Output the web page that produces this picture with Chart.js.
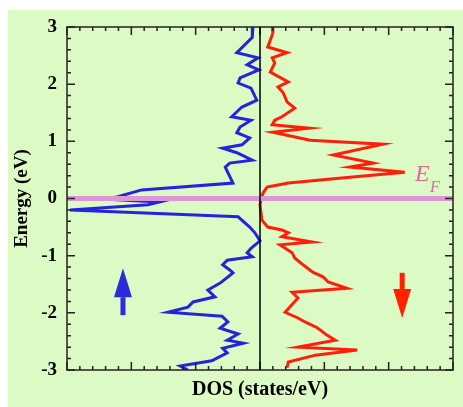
<!DOCTYPE html>
<html>
<head>
<meta charset="utf-8">
<script src="https://cdn.jsdelivr.net/npm/chart.js@4.4.1/dist/chart.umd.min.js"></script>
<style>
  html, body { margin: 0; padding: 0; background: #fff; }
  #wrap { position: absolute; left: 8px; top: 10px; width: 455px; height: 397px; background: #dcfac4; }
</style>
</head>
<body>
<div id="wrap"><canvas id="dosChart" width="455" height="397"></canvas></div>
<script>
// spin up (drawn to the left, negative DOS)
const upEnergy = [3.00, 2.82, 2.55, 2.46, 2.34, 2.25, 2.11, 2.02, 1.93, 1.72, 1.60, 1.43, 1.37, 1.25, 1.15, 1.06,
  0.94, 0.88, 0.80, 0.67, 0.62, 0.55, 0.27, 0.15, 0.03, -0.01, -0.06, -0.11, -0.20, -0.27, -0.32, -0.50,
  -0.60, -0.74, -0.87, -0.95, -1.02, -1.08, -1.16, -1.25, -1.30, -1.48, -1.60, -1.72, -1.81, -1.90, -1.99,
  -2.06, -2.16, -2.27, -2.37, -2.48, -2.53, -2.62, -2.70, -2.84, -2.93, -3.00];
const upDos = [-0.11, -0.12, -0.36, -0.03, -0.20, -0.02, -0.31, -0.34, -0.14, -0.05, -0.28, -0.44, -0.14, -0.31, -0.36, -0.16,
  -0.28, -0.58, -0.36, -0.12, -0.47, -0.54, -0.42, -1.84, -2.21, -2.40, -1.56, -1.74, -2.95, -1.40, -0.34, -0.16,
  -0.08, 0.0, -0.14, -0.20, -0.12, -0.51, -0.58, -0.47, -0.42, -0.62, -0.81, -0.70, -1.04, -1.12, -1.43,
  -0.59, -0.50, -0.62, -0.34, -0.51, -0.26, -0.58, -0.51, -0.75, -1.24, -1.12];

// spin down (drawn to the right)
const downEnergy = [3.00, 2.89, 2.65, 2.55, 2.46, 2.37, 2.21, 2.04, 1.95, 1.85, 1.69, 1.58, 1.43, 1.37, 1.29, 1.23,
  1.16, 1.02, 0.95, 0.76, 0.62, 0.55, 0.46, 0.38, 0.27, 0.20, 0.10, 0.00, -0.11, -0.38, -0.50, -0.55,
  -0.60, -0.67, -0.76, -0.81, -0.95, -1.04, -1.16, -1.29, -1.37, -1.46, -1.57, -1.64, -1.74, -1.99, -2.09,
  -2.16, -2.26, -2.39, -2.48, -2.60, -2.65, -2.74, -2.86, -2.96];
const downDos = [0.19, 0.20, 0.12, 0.42, 0.19, 0.23, 0.16, 0.44, 0.28, 0.36, 0.42, 0.54, 0.34, 0.23, 0.19, 0.76,
  0.20, 0.78, 1.91, 1.14, 1.76, 1.40, 2.25, 1.48, 0.44, 0.11, 0.05, 0.02, 0.0, 0.03, 0.12, 0.34,
  0.44, 0.34, 0.81, 0.31, 0.50, 0.54, 0.67, 0.82, 0.98, 1.06, 1.35, 0.50, 0.59, 0.39, 0.59,
  0.70, 0.89, 1.04, 1.17, 0.59, 1.51, 0.86, 0.44, 0.42];

const fermiLevel = 0;
const energyTicks = [-3, -2, -1, 0, 1, 2, 3];

const toPoints = (ys, xs) => ys.map((e, i) => ({ x: xs[i], y: e }));

const serif = '"Liberation Serif", "DejaVu Serif", serif';

// frame, inward ticks, zero line, E_F label and spin arrows
const decorations = {
  id: 'decorations',
  afterDatasetsDraw(chart) {
    const { ctx, chartArea: a, scales: { x, y } } = chart;
    ctx.save();
    ctx.strokeStyle = '#222';
    ctx.lineWidth = 1.5;
    ctx.strokeRect(a.left, a.top, a.right - a.left, a.bottom - a.top);

    ctx.beginPath();
    for (let i = 0; i <= 30; i++) {
      const v = -3 + i * 0.2;
      const len = i % 5 === 0 ? 8 : 4;
      const px = x.getPixelForValue(v);
      const py = y.getPixelForValue(v);
      ctx.moveTo(px, a.bottom); ctx.lineTo(px, a.bottom - len);
      ctx.moveTo(px, a.top); ctx.lineTo(px, a.top + len);
      ctx.moveTo(a.left, py); ctx.lineTo(a.left + len, py);
      ctx.moveTo(a.right, py); ctx.lineTo(a.right - len, py);
    }
    ctx.stroke();

    // zero DOS line
    ctx.strokeStyle = '#000';
    ctx.beginPath();
    ctx.moveTo(x.getPixelForValue(0), a.top);
    ctx.lineTo(x.getPixelForValue(0), a.bottom);
    ctx.stroke();

    // E_F label
    ctx.fillStyle = '#e0689a';
    ctx.textBaseline = 'alphabetic';
    ctx.font = 'italic 24px ' + serif;
    const ex = x.getPixelForValue(2.41);
    const ey = y.getPixelForValue(fermiLevel) - 18;
    ctx.fillText('E', ex, ey);
    ctx.font = 'italic 16px ' + serif;
    ctx.fillText('F', ex + 15, ey + 11);

    // spin arrows
    const arrow = (xv, tailE, headE, color) => {
      const cx = x.getPixelForValue(xv);
      const tail = y.getPixelForValue(tailE);
      const tip = y.getPixelForValue(headE);
      const dir = tip < tail ? -1 : 1;
      const headLen = 29;
      const base = tip - dir * headLen;
      ctx.fillStyle = color;
      ctx.fillRect(cx - 2.5, Math.min(tail, base), 5, Math.abs(base - tail));
      ctx.beginPath();
      ctx.moveTo(cx, tip);
      ctx.lineTo(cx - 9, base);
      ctx.lineTo(cx + 9, base);
      ctx.closePath();
      ctx.fill();
    };
    arrow(-2.13, -2.04, -1.22, '#2b2bdd');
    arrow(2.21, -1.30, -2.09, '#ff2200');
    ctx.restore();
  }
};

const ctx = document.getElementById('dosChart').getContext('2d');
new Chart(ctx, {
  type: 'scatter',
  data: {
    datasets: [
      {
        label: 'E_F',
        data: [{ x: -3, y: fermiLevel }, { x: 3, y: fermiLevel }],
        showLine: true,
        borderColor: '#dc96d8',
        borderWidth: 5,
        pointRadius: 0
      },
      {
        label: 'spin up',
        data: toPoints(upEnergy, upDos),
        showLine: true,
        borderColor: '#2424dc',
        borderWidth: 3,
        pointRadius: 0,
        tension: 0
      },
      {
        label: 'spin down',
        data: toPoints(downEnergy, downDos),
        showLine: true,
        borderColor: '#ff1e0a',
        borderWidth: 3,
        pointRadius: 0,
        tension: 0
      }
    ]
  },
  options: {
    responsive: false,
    animation: false,
    layout: { padding: { top: 17, right: 10, left: 0, bottom: 0 } },
    plugins: { legend: { display: false }, tooltip: { enabled: false } },
    scales: {
      x: {
        min: -3,
        max: 3,
        grid: { display: false, drawTicks: false },
        border: { display: false },
        ticks: { display: false },
        title: {
          display: true,
          text: 'DOS (states/eV)',
          color: '#000',
          font: { family: serif, size: 20, weight: 'bold' },
          padding: { top: 0, bottom: 5 }
        },
        afterFit: (scale) => { scale.height = 37; scale.paddingLeft = 0; scale.paddingRight = 0; }
      },
      y: {
        min: -3,
        max: 3,
        grid: { display: false, drawTicks: false },
        border: { display: false },
        afterBuildTicks: (scale) => { scale.ticks = energyTicks.map(v => ({ value: v })); },
        ticks: {
          color: '#000',
          padding: 10,
          font: { family: serif, size: 19, weight: 'bold' }
        },
        title: {
          display: true,
          text: 'Energy (eV)',
          color: '#000',
          font: { family: serif, size: 19, weight: 'bold' },
          padding: { top: 3, bottom: 0 }
        },
        afterFit: (scale) => { scale.width = 59; scale.paddingTop = 0; scale.paddingBottom = 0; }
      }
    }
  },
  plugins: [decorations]
});
</script>
</body>
</html>
